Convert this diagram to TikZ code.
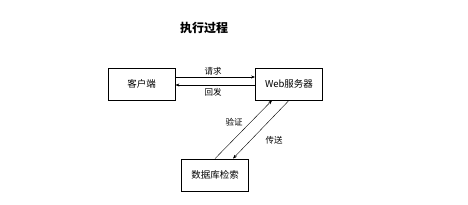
\documentclass[tikz,border=0pt]{standalone}
\usepackage{fontspec}
\setmainfont{Noto Sans CJK SC}
\usetikzlibrary{arrows.meta}
\begin{document}
\begin{tikzpicture}[x=1pt,y=-1pt,
	box/.style={draw,thick,minimum width=67pt,minimum height=32pt,inner sep=0pt,font=\fontsize{9.5}{11}\selectfont},
	lbl/.style={font=\fontsize{8.5}{10}\selectfont,inner sep=1pt},
	arr/.style={-{Stealth[length=4pt,width=3pt]}}]
			\useasboundingbox (0,0) rectangle (468,205);
			
			\node[font=\bfseries\fontsize{12}{14}\selectfont] (title) at (204,28) {执行过程};
			
			\node[box] (client) at (141.5,84) {客户端};
			\node[box] (web) at (289,84) {Web服务器};
			\node[box] (db) at (215,175) {数据库检索};
			
			\draw[arr,semithick] ([yshift=7pt]client.east) -- ([yshift=7pt]web.west);
			\draw[arr,semithick] ([yshift=-1pt]web.west) -- ([yshift=-1pt]client.east);
			
			\draw[arr,thin] (db.north) -- ([xshift=-17pt]web.south);
			\draw[arr,thin] (web.south) -- ([xshift=18pt]db.north);
			
			\node[lbl] (req) at (213,71) {请求};
			\node[lbl] (resp) at (213,92) {回发};
			\node[lbl] (check) at (234,122) {验证};
			\node[lbl] (send) at (274,140) {传送};
		\end{tikzpicture}
\end{document}
